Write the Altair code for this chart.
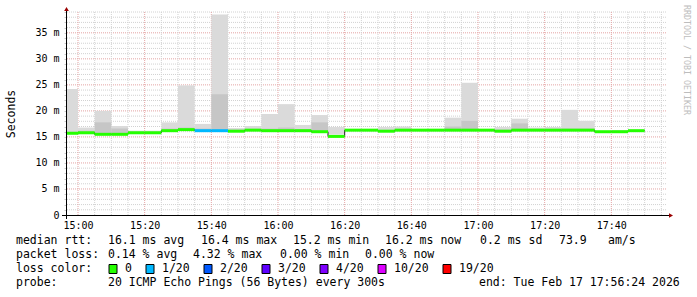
import altair as alt
import pandas as pd

# ---------------- data ----------------
interval_end = ["15:00", "15:05", "15:10", "15:15", "15:20", "15:25", "15:30", "15:35",
                "15:40", "15:45", "15:50", "15:55", "16:00", "16:05", "16:10", "16:15",
                "16:20", "16:25", "16:30", "16:35", "16:40", "16:45", "16:50", "16:55",
                "17:00", "17:05", "17:10", "17:15", "17:20", "17:25", "17:30", "17:35",
                "17:40", "17:45", "17:50"]
median_ms = [15.7, 15.8, 15.5, 15.5, 15.8, 15.8, 16.2, 16.4, 16.2, 16.2, 16.1, 16.3,
             16.2, 16.2, 16.2, 16.0, 15.1, 16.3, 16.3, 16.1, 16.3, 16.3, 16.3, 16.3,
             16.3, 16.3, 16.1, 16.3, 16.3, 16.3, 16.3, 16.3, 16.0, 16.0, 16.2]
smoke_min_ms = [15.7, 15.8, 15.5, 15.5, 15.8, 15.8, 16.2, 16.4, 16.2, 16.2, 16.1, 16.3,
                16.2, 16.2, 16.2, 16.0, 15.45, 16.3, 16.3, 16.1, 16.3, 16.3, 16.3, 16.3,
                16.3, 16.3, 16.1, 16.3, 16.3, 16.3, 16.3, 16.3, 16.0, 16.0, 16.2]
smoke_inner_ms = [16.0, 16.2, 17.8, 16.6, 16.0, 16.0, 16.6, 16.8, 16.6, 23.2, 16.4, 16.5,
                  16.6, 16.8, 16.5, 17.8, 15.45, 16.4, 16.4, 16.3, 16.4, 16.4, 16.4, 17.0,
                  18.1, 16.4, 16.4, 17.6, 16.5, 16.5, 16.6, 16.6, 16.0, 16.1, 16.2]
smoke_max_ms = [24.2, 16.8, 20.0, 17.1, 16.2, 16.2, 17.8, 24.9, 17.5, 38.5, 16.7, 17.1,
                19.4, 21.3, 17.3, 19.2, 16.9, 16.5, 16.5, 16.9, 17.0, 16.5, 16.5, 18.7,
                25.4, 16.5, 16.9, 18.5, 16.8, 16.9, 20.2, 18.1, 16.1, 16.3, 16.3]
loss_class = ["0"] * 8 + ["1/20", "1/20"] + ["0"] * 25

loss_labels = ["0", "1/20", "2/20", "3/20", "4/20", "10/20", "19/20"]
loss_colors = ["#26ff00", "#00b8ff", "#0059ff", "#5e00ff", "#7e00ff", "#dd00ff", "#ff0000"]

y_tick_values = list(range(0, 40))
y_label_values = [0, 5, 10, 15, 20, 25, 30, 35]
x_label_times = ["15:00", "15:20", "15:40", "16:00", "16:20", "16:40", "17:00", "17:20", "17:40"]
x_minor_times = ["15:05", "15:10", "15:15", "15:25", "15:30", "15:35", "15:45", "15:50",
                 "15:55", "16:05", "16:10", "16:15", "16:25", "16:30", "16:35", "16:45",
                 "16:50", "16:55", "17:05", "17:10", "17:15", "17:25", "17:30", "17:35",
                 "17:45", "17:50", "17:55"]
day = "2026-02-17"
range_start = "14:56:24"
range_end = "17:56:24"

rtt_title = "median rtt:"
rtt_stats = ["16.1 ms avg", "16.4 ms max", "15.2 ms min", "16.2 ms now", "0.2 ms sd", "73.9", "am/s"]
loss_title = "packet loss:"
loss_stats = ["0.14 % avg", "4.32 % max", "0.00 % min", "0.00 % now"]
color_title = "loss color:"
probe_title = "probe:"
probe_text = "20 ICMP Echo Pings (56 Bytes) every 300s"
end_text = "end: Tue Feb 17 17:56:24 2026"
y_title = "Seconds"
watermark = "RRDTOOL / TOBI OETIKER"

# ---------------- layout ----------------
LEFT, TOP, W, H = 66, 12, 600, 203
FONT = "DejaVu Sans Mono"
rtt_x = [108, 201, 293, 385, 480, 559, 608]
loss_x = [108, 193, 280, 365]
row_y = [241, 255, 269, 283]


def iso(hm):
    return f"{day}T{hm}:00Z" if len(hm) == 5 else f"{day}T{hm}Z"


def ms(hm):
    return int(pd.Timestamp(iso(hm)).value // 10**6)


t0, t1 = ms(range_start), ms(range_end)

ends = [pd.Timestamp(iso(t)) for t in interval_end]
starts = [e - pd.Timedelta(minutes=5) for e in ends]
fmt = lambda ts: ts.strftime("%Y-%m-%dT%H:%M:%SZ")

df = pd.DataFrame({
    "start": [fmt(s) for s in starts],
    "end": [fmt(e) for e in ends],
    "median": median_ms,
    "lo": smoke_min_ms,
    "inner": smoke_inner_ms,
    "hi": smoke_max_ms,
    "loss": loss_class,
})
step_df = pd.DataFrame({
    "start": list(df["start"]) + [df["end"].iloc[-1]],
    "median": median_ms + [median_ms[-1]],
})

xs = alt.Scale(type="utc", domain=[t0, t1])
ys = alt.Scale(domain=[0, 39], nice=False, zero=True)

yaxis = alt.Axis(
    values=y_tick_values,
    labelExpr="datum.value % 5 == 0 ? (datum.value == 0 ? '0' : datum.value + ' m') : ''",
    labelFont=FONT, labelFontSize=10, labelColor="#000000",
    ticks=True, tickSize=2, tickColor="#c8c8c8", labelPadding=5,
    domain=False, grid=False,
    title=y_title, titleFont=FONT, titleFontSize=11.5, titleFontWeight="normal",
    titleColor="#000000", titleX=-55, titleY=H / 2, titleAngle=270,
    titleAlign="center", titleBaseline="middle",
)
xaxis = alt.Axis(
    values=[ms(t) for t in x_label_times],
    labelExpr="utcFormat(datum.value, '%H:%M')",
    labelFont=FONT, labelFontSize=10, labelColor="#000000", labelPadding=5,
    ticks=False, domain=False, grid=False, title="", labelFlush=False,
)

X_START = alt.X("start:T", scale=xs, axis=xaxis, title="")
Y_Q = lambda f: alt.Y(f, scale=ys, axis=yaxis, title=y_title)

MINOR = "#d2d2d2"
MAJOR = "#e4a4a4"

hminor = pd.DataFrame({"median": [v for v in y_tick_values[1:] if v % 5]})
hmajor = pd.DataFrame({"median": [v for v in y_label_values if v > 0]})
vminor = pd.DataFrame({"start": [iso(t) for t in x_minor_times]})
vmajor = pd.DataFrame({"start": [iso(t) for t in x_label_times]})

g1 = alt.Chart(hminor).mark_rule(color=MINOR, strokeDash=[1, 1], strokeWidth=1).encode(
    y=Y_Q("median:Q"))
g2 = alt.Chart(hmajor).mark_rule(color=MAJOR, strokeDash=[1, 1], strokeWidth=1).encode(
    y=Y_Q("median:Q"))
g3 = alt.Chart(vminor).mark_rule(color=MINOR, strokeDash=[1, 1], strokeWidth=1).encode(
    x=X_START)
g4 = alt.Chart(vmajor).mark_rule(color=MAJOR, strokeDash=[1, 1], strokeWidth=1).encode(
    x=X_START)

smoke_light = alt.Chart(df).mark_rect(color="#dadada", clip=True).encode(
    x=X_START, x2="end:T", y=Y_Q("lo:Q"), y2="hi:Q")
smoke_dark = alt.Chart(df).mark_rect(color="#c6c6c6", clip=True).encode(
    x=X_START, x2="end:T", y=Y_Q("lo:Q"), y2="inner:Q")
step = alt.Chart(step_df).mark_line(interpolate="step-after", color="#202020",
                                    strokeWidth=1, clip=True).encode(
    x=X_START, y=Y_Q("median:Q"))
med = alt.Chart(df).mark_rule(strokeWidth=3, strokeCap="butt", clip=True).encode(
    x=X_START, x2="end:T", y=Y_Q("median:Q"),
    color=alt.Color("loss:N", scale=alt.Scale(domain=loss_labels, range=loss_colors), legend=None))

one = pd.DataFrame({"k": [0]})

# axis lines and arrows
decor = [
    alt.Chart(one).mark_rule(color="#000000", strokeWidth=1).encode(
        x=alt.value(0.5), y=alt.value(-4), y2=alt.value(H + 4)),
    alt.Chart(one).mark_rule(color="#000000", strokeWidth=1).encode(
        x=alt.value(-4), x2=alt.value(W + 4), y=alt.value(H + 0.5)),
    alt.Chart(one).mark_point(shape="triangle-up", filled=True, size=22,
                              color="#9a0000", opacity=1).encode(
        x=alt.value(0.5), y=alt.value(-3)),
    alt.Chart(one).mark_point(shape="triangle-right", filled=True, size=22,
                              color="#9a0000", opacity=1).encode(
        x=alt.value(W + 5), y=alt.value(H + 0.5)),
]

# legend text
rows = [(rtt_title, 16, row_y[0])]
rows += [(s, x, row_y[0]) for s, x in zip(rtt_stats, rtt_x)]
rows.append((loss_title, 16, row_y[1]))
rows += [(s, x, row_y[1]) for s, x in zip(loss_stats, loss_x)]
rows.append((color_title, 16, row_y[2]))
sq = []
x = 109
for lab, col in zip(loss_labels, loss_colors):
    sq.append((x, col))
    rows.append((lab, x + 16, row_y[2]))
    x += 30 + 7 * len(lab)
rows.append((probe_title, 16, row_y[3]))
rows.append((probe_text, 108, row_y[3]))
rows.append((end_text, 479, row_y[3]))

text_layers = []
for s, px, py in rows:
    text_layers.append(
        alt.Chart(pd.DataFrame({"text": [s]})).mark_text(
            align="left", baseline="middle", font=FONT, fontSize=11.5, color="#000000"
        ).encode(x=alt.value(px - LEFT), y=alt.value(py - TOP), text="text:N"))
for px, col in sq:
    text_layers.append(
        alt.Chart(one).mark_rect(stroke="#000000", strokeWidth=1, fill=col).encode(
            x=alt.value(px - LEFT), x2=alt.value(px - LEFT + 8),
            y=alt.value(row_y[2] - 4.5 - TOP), y2=alt.value(row_y[2] + 4.5 - TOP)))
text_layers.append(
    alt.Chart(pd.DataFrame({"text": [watermark]})).mark_text(
        align="left", baseline="middle", angle=90, font=FONT, fontSize=8.3, color="#bdbdbd"
    ).encode(x=alt.value(686 - LEFT), y=alt.value(5 - TOP), text="text:N"))

chart = alt.layer(
    g1, g2, g3, g4, smoke_light, smoke_dark, step, med, *decor, *text_layers
).properties(
    width=W, height=H,
    autosize=alt.AutoSizeParams(type="none"),
    padding={"left": LEFT, "top": TOP, "right": 697 - LEFT - W, "bottom": 297 - TOP - H},
    background="#ffffff",
).configure_view(stroke=None)

chart.save("out.html", embed_options={"renderer": "svg", "actions": False})
